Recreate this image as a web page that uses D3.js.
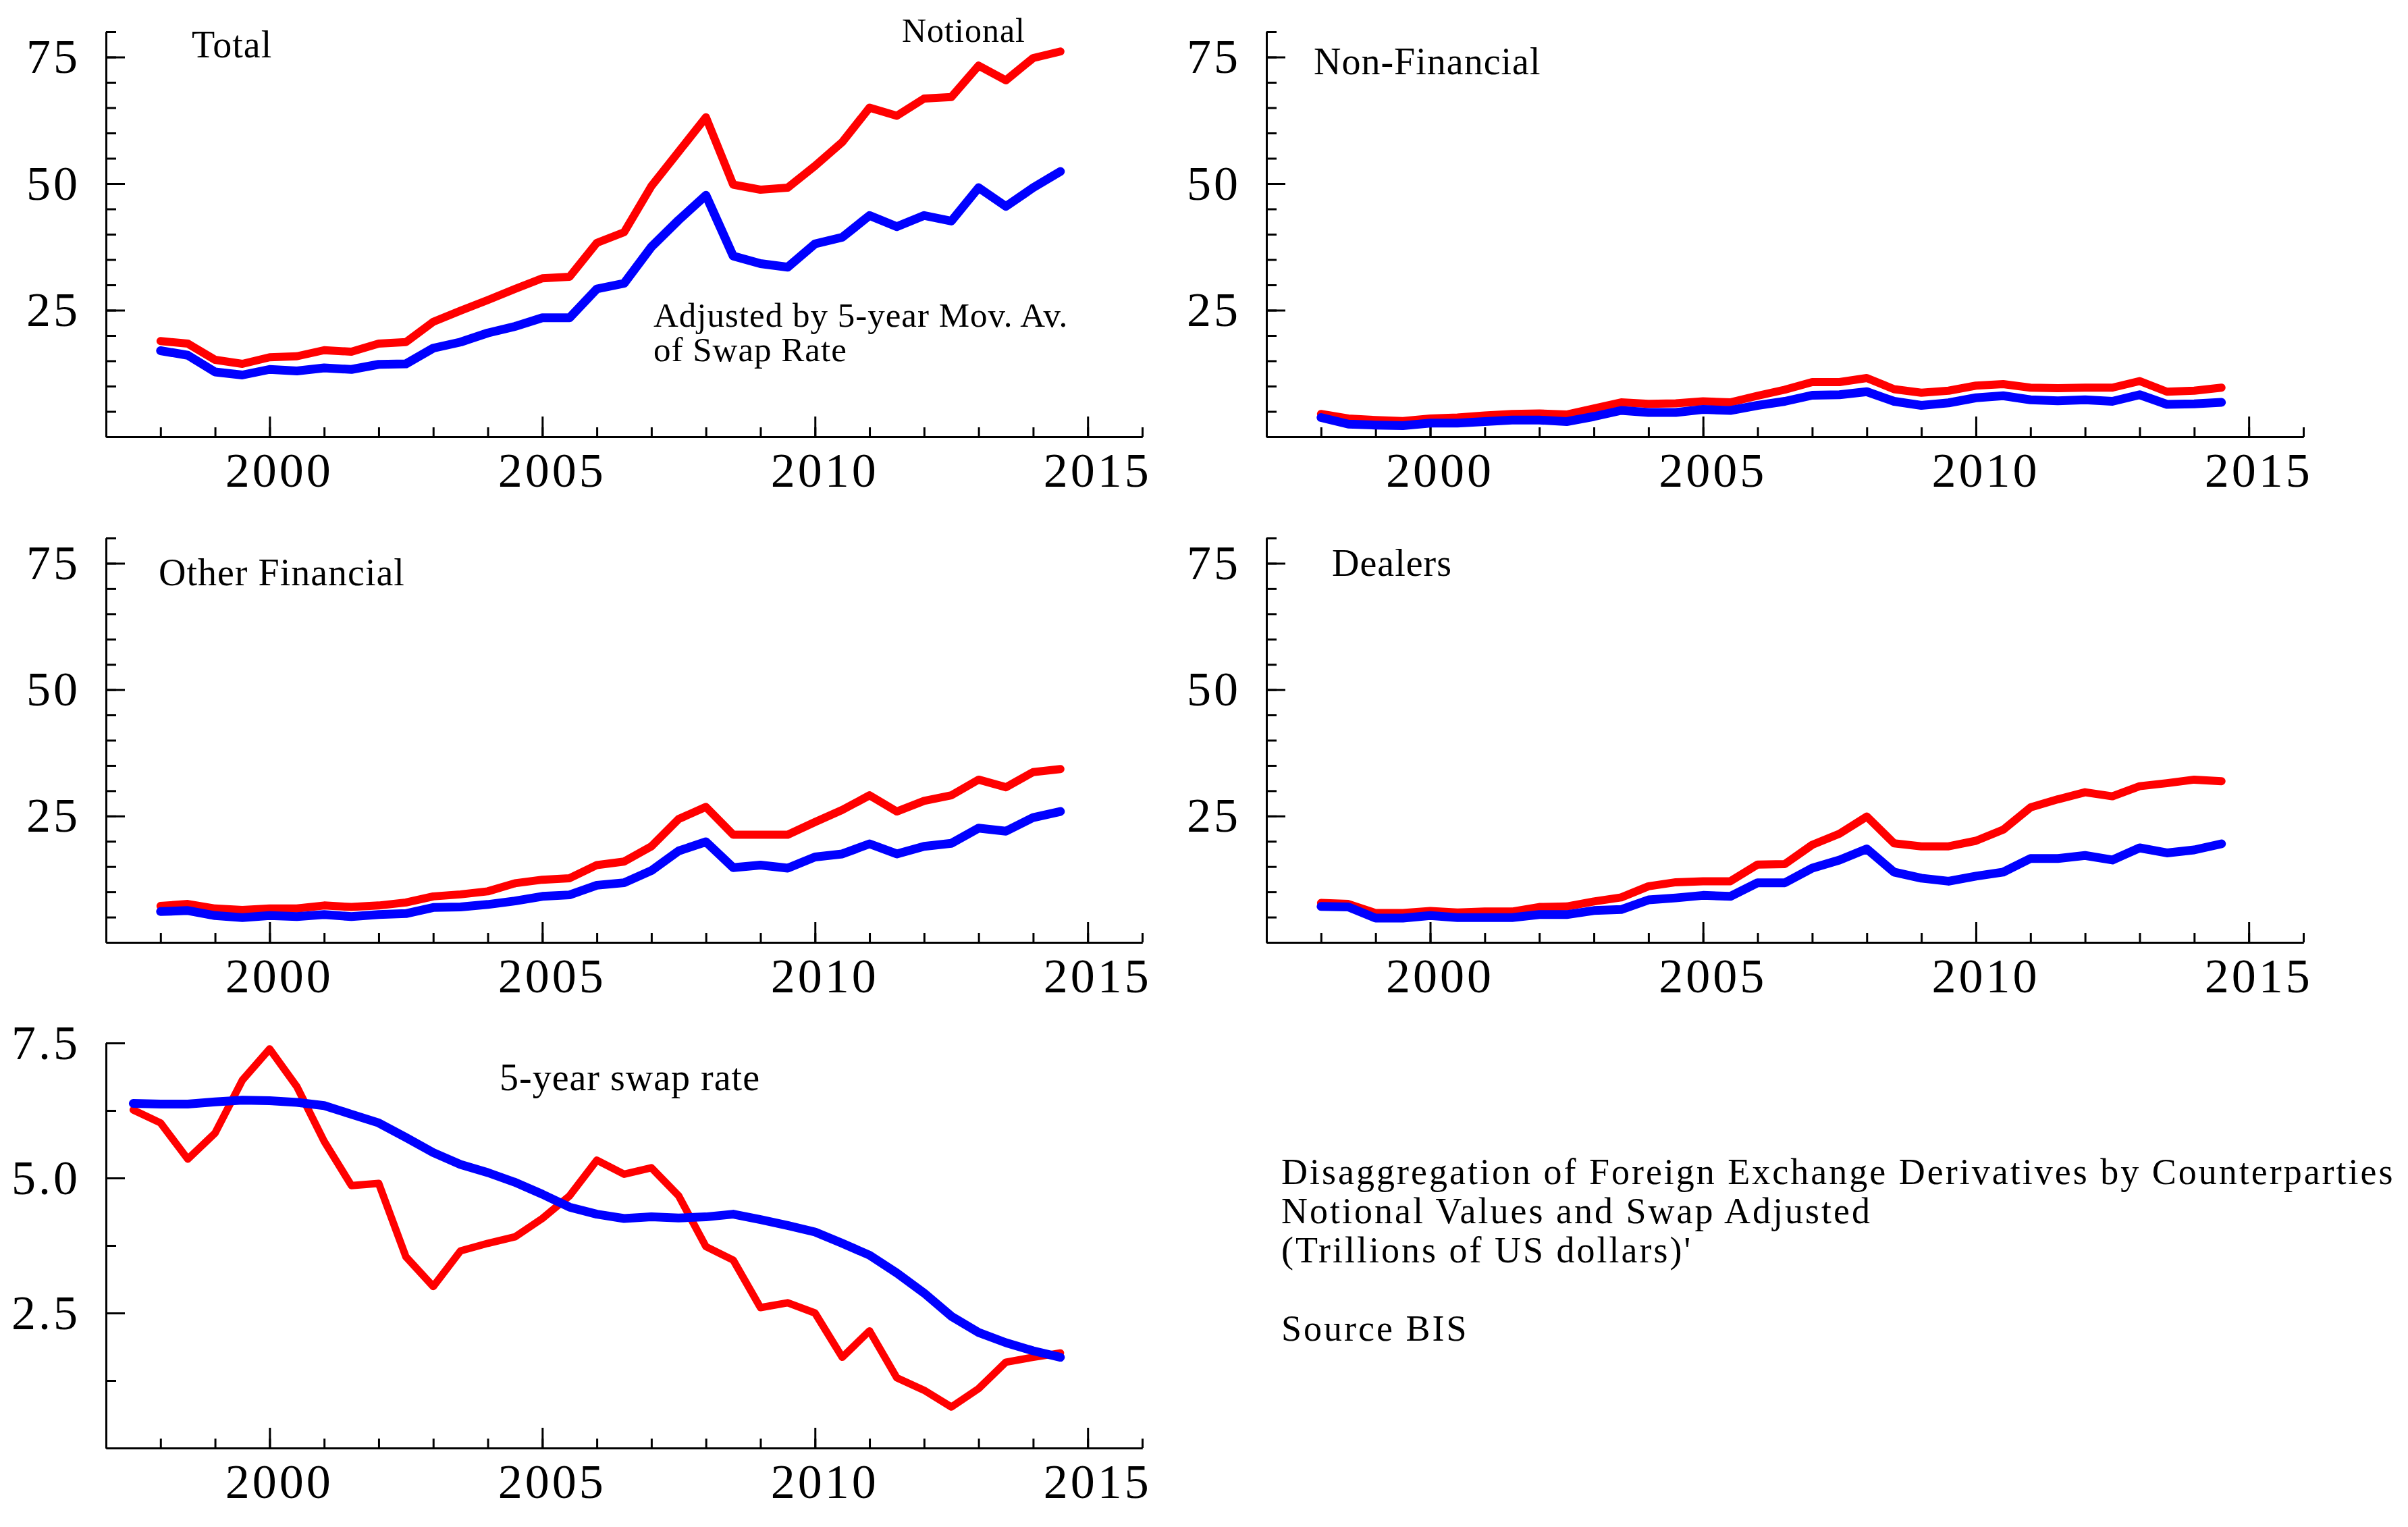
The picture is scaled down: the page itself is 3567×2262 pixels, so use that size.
<!DOCTYPE html>
<html lang="en">
<head>
<meta charset="UTF-8">
<title>Disaggregation of Foreign Exchange Derivatives by Counterparties</title>
<script src="https://d3js.org/d3.v7.min.js"></script>
<style>
    body { margin: 0; background: #fff; }
    svg { display: block; }
    text { font-family: "Liberation Serif", "Times New Roman", serif; fill: #000; }
    .tick text { font-size: 72px; letter-spacing: 4px; }
    .panel-label { font-size: 56px; letter-spacing: 1px; }
    .note { font-size: 54px; letter-spacing: 3px; }
</style>
</head>
<body>
<svg id="chart" width="3567" height="2262"></svg>
<script>
// semiannual observations, BIS OTC statistics
const halfYears = [1998.0, 1998.5, 1999.0, 1999.5, 2000.0, 2000.5, 2001.0, 2001.5, 2002.0, 2002.5,
    2003.0, 2003.5, 2004.0, 2004.5, 2005.0, 2005.5, 2006.0, 2006.5, 2007.0, 2007.5,
    2008.0, 2008.5, 2009.0, 2009.5, 2010.0, 2010.5, 2011.0, 2011.5, 2012.0, 2012.5,
    2013.0, 2013.5, 2014.0, 2014.5];
const swapDates = [1997.5, 1998.0, 1998.5, 1999.0, 1999.5, 2000.0, 2000.5, 2001.0, 2001.5, 2002.0,
    2002.5, 2003.0, 2003.5, 2004.0, 2004.5, 2005.0, 2005.5, 2006.0, 2006.5, 2007.0,
    2007.5, 2008.0, 2008.5, 2009.0, 2009.5, 2010.0, 2010.5, 2011.0, 2011.5, 2012.0,
    2012.5, 2013.0, 2013.5, 2014.0, 2014.5];

const totalNotional = [18.9, 18.4, 15.2, 14.4, 15.7, 15.9, 17.1, 16.8, 18.4, 18.7, 22.7, 24.9, 27.0, 29.2, 31.3, 31.6, 38.3,
    40.4, 49.5, 56.3, 63.1, 49.8, 48.8, 49.2, 53.5, 58.2, 65.0, 63.4, 66.8, 67.1, 73.3, 70.4, 74.8, 76.1];
const totalAdjusted = [17.0, 16.1, 12.8, 12.2, 13.3, 13.0, 13.6, 13.3, 14.3, 14.4, 17.5, 18.7, 20.5, 21.8, 23.5, 23.5, 29.2,
    30.3, 37.5, 42.8, 47.7, 35.7, 34.2, 33.5, 38.1, 39.4, 43.7, 41.5, 43.7, 42.6, 49.2, 45.5, 49.2, 52.4];
const nonFinNotional = [4.5, 3.6, 3.3, 3.1, 3.6, 3.8, 4.2, 4.5, 4.6, 4.4, 5.6, 6.8, 6.5, 6.6, 7.0, 6.8, 8.1,
    9.3, 10.8, 10.8, 11.6, 9.4, 8.7, 9.1, 10.1, 10.4, 9.7, 9.6, 9.7, 9.7, 11.0, 8.9, 9.1, 9.7];
const nonFinAdjusted = [3.8, 2.5, 2.3, 2.2, 2.7, 2.7, 3.0, 3.3, 3.3, 3.0, 4.0, 5.2, 4.8, 4.8, 5.4, 5.2, 6.2,
    7.0, 8.2, 8.3, 8.9, 7.0, 6.2, 6.7, 7.7, 8.1, 7.3, 7.1, 7.3, 7.0, 8.3, 6.4, 6.5, 6.8];
const otherFinNotional = [7.2, 7.6, 6.7, 6.4, 6.7, 6.7, 7.3, 7.0, 7.3, 7.9, 9.1, 9.5, 10.1, 11.7, 12.4, 12.7, 15.3,
    16.0, 19.0, 24.4, 26.8, 21.3, 21.3, 21.3, 23.8, 26.2, 29.1, 25.9, 28.0, 29.1, 32.2, 30.7, 33.7, 34.3];
const otherFinAdjusted = [6.1, 6.3, 5.3, 4.9, 5.3, 5.1, 5.5, 5.1, 5.5, 5.7, 6.9, 7.0, 7.5, 8.2, 9.1, 9.4, 11.3,
    11.8, 14.2, 18.1, 19.9, 14.8, 15.3, 14.7, 16.9, 17.5, 19.5, 17.5, 19.0, 19.6, 22.6, 22.0, 24.7, 25.9];
const dealersNotional = [7.8, 7.6, 5.8, 5.8, 6.2, 5.9, 6.1, 6.1, 7.0, 7.1, 8.1, 8.9, 11.1, 11.9, 12.1, 12.1, 15.4,
    15.5, 19.3, 21.5, 24.9, 19.6, 19.0, 19.0, 20.1, 22.3, 26.7, 28.3, 29.7, 28.9, 30.9, 31.5, 32.2, 31.9];
const dealersAdjusted = [7.1, 7.0, 4.8, 4.8, 5.3, 4.9, 4.9, 4.9, 5.5, 5.5, 6.3, 6.5, 8.4, 8.8, 9.3, 9.1, 11.8,
    11.8, 14.7, 16.3, 18.5, 13.9, 12.7, 12.1, 13.1, 13.9, 16.6, 16.6, 17.2, 16.3, 18.7, 17.7, 18.3, 19.5];

const swapRate = [6.26, 6.02, 5.35, 5.83, 6.81, 7.39, 6.69, 5.68, 4.86, 4.90, 3.54, 2.99, 3.65, 3.79, 3.91, 4.25, 4.67,
    5.33, 5.07, 5.19, 4.67, 3.73, 3.48, 2.60, 2.69, 2.50, 1.68, 2.17, 1.30, 1.07, 0.76, 1.10, 1.59, 1.68, 1.76];
const swapMovAvg = [6.38, 6.37, 6.37, 6.41, 6.44, 6.43, 6.40, 6.34, 6.18, 6.02, 5.75, 5.47, 5.25, 5.10, 4.92, 4.70, 4.46,
    4.33, 4.25, 4.28, 4.26, 4.28, 4.33, 4.23, 4.12, 4.00, 3.79, 3.57, 3.24, 2.87, 2.44, 2.14, 1.95, 1.80, 1.68];

const yearLabels = [2000, 2005, 2010, 2015];
const trillionLabels = [25, 50, 75];
const swapLabels = [2.5, 5.0, 7.5];

const noteLines = [
    "Disaggregation of Foreign Exchange Derivatives by Counterparties",
    "Notional Values and Swap Adjusted",
    "(Trillions of US dollars)'",
    "",
    "Source BIS"
];

const svg = d3.select("#chart");
const line = (x, y) => d3.line().x(d => x(d[0])).y(d => y(d[1]));

function drawPanel(p) {
    const x = d3.scaleLinear().domain([1997, 2016]).range([p.left, p.right]);
    const y = d3.scaleLinear().domain([0, p.yMax]).range([p.bottom, p.top]);
    const g = svg.append("g");

    // minor ticks (no labels)
    g.append("g").attr("transform", `translate(0,${p.bottom})`)
        .call(d3.axisBottom(x).tickValues(d3.range(1998, 2017)).tickSize(-14).tickSizeOuter(0).tickFormat(""));
    g.append("g").attr("transform", `translate(${p.left},0)`)
        .call(d3.axisLeft(y).tickValues(p.minorY).tickSize(-15).tickSizeOuter(0).tickFormat(""));

    // major ticks with labels
    const xa = g.append("g").attr("transform", `translate(0,${p.bottom})`)
        .call(d3.axisBottom(x).tickValues(yearLabels).tickSize(-30).tickSizeOuter(0).tickPadding(23).tickFormat(d3.format("d")));
    xa.selectAll("text").attr("x", 14);
    g.append("g").attr("transform", `translate(${p.left},0)`)
        .call(d3.axisLeft(y).tickValues(p.labels).tickSize(-28).tickSizeOuter(0).tickPadding(38).tickFormat(p.fmt));

    g.selectAll(".domain, .tick line").attr("stroke", "#000").attr("stroke-width", 3);

    p.series.forEach(s => {
        g.append("path")
            .datum(s.dates.map((d, i) => [d, s.values[i]]))
            .attr("fill", "none")
            .attr("stroke", s.color)
            .attr("stroke-width", s.width)
            .attr("stroke-linejoin", "round")
            .attr("stroke-linecap", "round")
            .attr("d", line(x, y));
    });

    p.texts.forEach(t => {
        g.append("text").attr("class", "panel-label")
            .attr("x", t.x).attr("y", t.y)
            .style("font-size", t.size ? t.size + "px" : null)
            .text(t.text);
    });
}

const trillionMinor = d3.range(5, 81, 5);
const pair = (notional, adjusted) => [
    { dates: halfYears, values: notional, color: "#ff0000", width: 12 },
    { dates: halfYears, values: adjusted, color: "#0000ff", width: 13 }
];

drawPanel({
    left: 157, right: 1692, top: 47, bottom: 647, yMax: 80,
    minorY: trillionMinor, labels: trillionLabels, fmt: d3.format("d"),
    series: pair(totalNotional, totalAdjusted),
    texts: [
        { text: "Total", x: 284, y: 85 },
        { text: "Notional", x: 1336, y: 62, size: 50 },
        { text: "Adjusted by 5-year Mov. Av.", x: 968, y: 484, size: 51 },
        { text: "of Swap Rate", x: 968, y: 535, size: 51 }
    ]
});

drawPanel({
    left: 1876, right: 3412, top: 47, bottom: 647, yMax: 80,
    minorY: trillionMinor, labels: trillionLabels, fmt: d3.format("d"),
    series: pair(nonFinNotional, nonFinAdjusted),
    texts: [{ text: "Non-Financial", x: 1946, y: 110 }]
});

drawPanel({
    left: 157, right: 1692, top: 797, bottom: 1396, yMax: 80,
    minorY: trillionMinor, labels: trillionLabels, fmt: d3.format("d"),
    series: pair(otherFinNotional, otherFinAdjusted),
    texts: [{ text: "Other Financial", x: 235, y: 867 }]
});

drawPanel({
    left: 1876, right: 3412, top: 797, bottom: 1396, yMax: 80,
    minorY: trillionMinor, labels: trillionLabels, fmt: d3.format("d"),
    series: pair(dealersNotional, dealersAdjusted),
    texts: [{ text: "Dealers", x: 1973, y: 853 }]
});

drawPanel({
    left: 157, right: 1692, top: 1545, bottom: 2145, yMax: 7.5,
    minorY: [1.25, 2.5, 3.75, 5.0, 6.25, 7.5], labels: swapLabels, fmt: d3.format(".1f"),
    series: [
        { dates: swapDates, values: swapRate, color: "#ff0000", width: 11 },
        { dates: swapDates, values: swapMovAvg, color: "#0000ff", width: 13 }
    ],
    texts: [{ text: "5-year swap rate", x: 740, y: 1615 }]
});

// note block at lower right
svg.append("g").selectAll("text")
    .data(noteLines)
    .join("text")
    .attr("class", "note")
    .attr("x", 1898)
    .attr("y", (d, i) => 1754 + i * 58)
    .text(d => d);
</script>
</body>
</html>
